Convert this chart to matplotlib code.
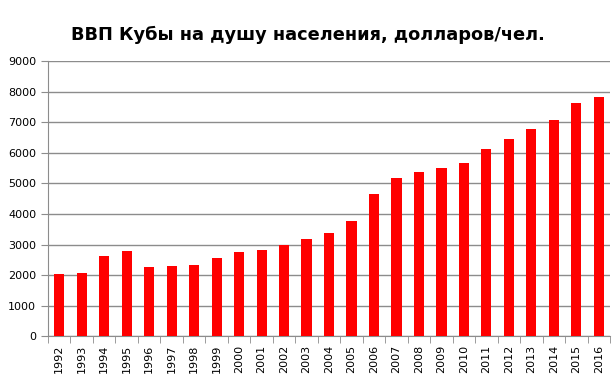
import matplotlib
matplotlib.use('Agg')
import matplotlib.pyplot as plt
import numpy as np

# GDP per capita of Cuba, USD/person
years = [str(y) for y in range(1992, 2017)]
gdp = [2050, 2080, 2630, 2790, 2270, 2300, 2340, 2560, 2740, 2830, 3000, 3190,
       3380, 3780, 4670, 5190, 5390, 5490, 5680, 6140, 6440, 6770, 7060, 7620, 7820]

plt.rcParams['font.family'] = ['DejaVu Sans']

fig = plt.figure(figsize=(6.15, 3.9), dpi=100)
ax = fig.add_axes([0.078, 0.138, 0.914, 0.705])

x = np.arange(len(years))
ax.bar(x, gdp, width=0.45, color='#ff0000', zorder=3)

ax.set_xlim(-0.5, len(years) - 0.5)
ax.set_ylim(0, 9000)
ax.set_yticks(range(0, 9001, 1000))
ax.yaxis.grid(True, color='#8c8c8c', linewidth=1, zorder=0)

ax.set_xticks(x)
ax.set_xticklabels(years, rotation=90, fontsize=8)
ax.set_xticks(np.arange(-0.5, len(years)), minor=True)
ax.tick_params(axis='x', which='major', length=0, pad=6)
ax.tick_params(axis='x', which='minor', length=5, color='#8c8c8c')
ax.tick_params(axis='y', labelsize=8, length=5, color='#8c8c8c')

for side in ['top', 'right']:
    ax.spines[side].set_visible(False)
for side in ['left', 'bottom']:
    ax.spines[side].set_color('#8c8c8c')

fig.suptitle('ВВП Кубы на душу населения, долларов/чел.', fontsize=12.8,
             fontweight='bold', y=0.935)

fig.savefig('out.png', dpi=100)
